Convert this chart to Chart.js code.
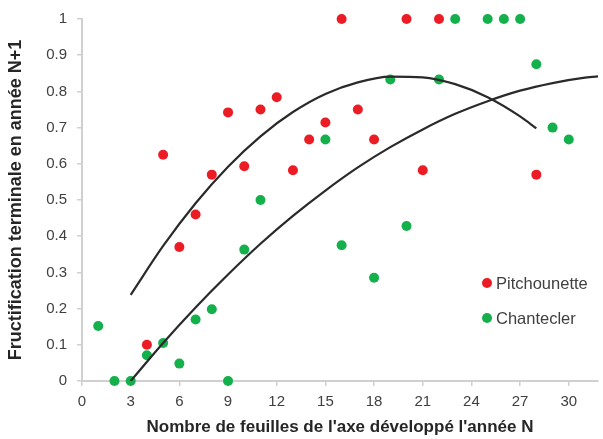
<!DOCTYPE html>
<html lang="fr">
<head>
  <meta charset="UTF-8">
  <title>Fructification terminale</title>
  <script src="https://cdn.jsdelivr.net/npm/chart.js"></script>
  <style>
    html, body { margin: 0; padding: 0; background: #fff; }
    #wrap { width: 603px; height: 439px; }
  </style>
</head>
<body>
  <div id="wrap"><canvas id="myChart" width="603" height="439"></canvas></div>
  <script>
    // Pitchounette : nombre de feuilles / fructification
    const pitchX = [4, 5, 6, 7, 8, 9, 10, 11, 12, 13, 14, 15, 16, 17, 18, 20, 21, 22, 28];
    const pitchY = [0.1, 0.625, 0.37, 0.46, 0.57, 0.742, 0.593, 0.75, 0.784, 0.582, 0.667, 0.714, 1, 0.75, 0.667, 1, 0.582, 1, 0.57];

    // Chantecler
    const chantX = [1, 2, 3, 4, 5, 6, 7, 8, 9, 10, 11, 15, 16, 18, 19, 20, 22, 23, 25, 26, 27, 28, 29, 30];
    const chantY = [0.152, 0, 0, 0.071, 0.105, 0.048, 0.17, 0.198, 0, 0.363, 0.5, 0.667, 0.375, 0.285, 0.833, 0.428, 0.833, 1, 1, 1, 1, 0.875, 0.7, 0.667];

    // courbes de tendance
    const trendPX = [3, 5, 7, 9, 11, 13, 15, 17, 19, 21, 23, 25, 27, 28];
    const trendPY = [0.238, 0.373, 0.491, 0.592, 0.676, 0.743, 0.793, 0.825, 0.841, 0.839, 0.82, 0.784, 0.731, 0.698];
    const trendCX = [3, 5, 7, 9, 11, 13, 15, 17, 19, 21, 23, 25, 27, 29, 31, 32];
    const trendCY = [0, 0.105, 0.203, 0.294, 0.379, 0.456, 0.526, 0.59, 0.646, 0.695, 0.738, 0.773, 0.802, 0.823, 0.838, 0.842];

    const legendNames = ['Pitchounette', 'Chantecler'];
    const colRed = '#ec1c24';
    const colGreen = '#14b04c';

    function pts(xs, ys) {
      return xs.map((x, i) => ({ x: x, y: ys[i] }));
    }

    const FONT = "'Liberation Sans', Arial, Helvetica, sans-serif";

    // legende dans la zone du graphique
    const insideLegend = {
      id: 'insideLegend',
      afterDraw(chart) {
        const ctx = chart.ctx;
        const area = chart.chartArea;
        const cols = [colRed, colGreen];
        ctx.save();
        ctx.font = '16.5px ' + FONT;
        ctx.textBaseline = 'middle';
        ctx.textAlign = 'left';
        legendNames.forEach((name, i) => {
          const x = area.right - 111;
          const y = 283 + i * 35;
          ctx.fillStyle = cols[i];
          ctx.beginPath();
          ctx.arc(x, y, 5, 0, Math.PI * 2);
          ctx.fill();
          ctx.fillStyle = '#404040';
          ctx.fillText(name, x + 9, y + 1);
        });
        ctx.restore();
      }
    };

    const ctx = document.getElementById('myChart').getContext('2d');
    const myChart = new Chart(ctx, {
      type: 'scatter',
      data: {
        datasets: [{
          type: 'line',
          label: 'tendance Pitchounette',
          data: pts(trendPX, trendPY),
          borderColor: '#2a2a2a',
          borderWidth: 2.2,
          pointRadius: 0,
          cubicInterpolationMode: 'monotone',
          fill: false
        }, {
          type: 'line',
          label: 'tendance Chantecler',
          data: pts(trendCX, trendCY),
          borderColor: '#2a2a2a',
          borderWidth: 2.2,
          pointRadius: 0,
          cubicInterpolationMode: 'monotone',
          fill: false
        }, {
          label: legendNames[1],
          data: pts(chantX, chantY),
          backgroundColor: colGreen,
          borderWidth: 0,
          pointRadius: 5,
          clip: false
        }, {
          label: legendNames[0],
          data: pts(pitchX, pitchY),
          backgroundColor: colRed,
          borderWidth: 0,
          pointRadius: 5,
          clip: false
        }]
      },
      options: {
        responsive: false,
        animation: false,
        layout: { padding: { top: 16, right: 0, left: 0, bottom: 0 } },
        plugins: {
          legend: { display: false },
          tooltip: { enabled: false }
        },
        scales: {
          x: {
            type: 'linear',
            min: 0,
            max: 31.8,
            afterFit: (s) => { s.height = 58; },
            ticks: {
              stepSize: 3,
              includeBounds: false,
              padding: 7,
              color: '#404040',
              font: { family: FONT, size: 15 }
            },
            grid: { drawOnChartArea: false, color: '#d0d0d0', tickLength: 5, lineWidth: 1.5 },
            border: { color: '#d0d0d0', width: 2 },
            title: {
              display: true,
              text: "Nombre de feuilles de l'axe développé l'année N",
              color: '#262626',
              font: { family: FONT, size: 17, weight: 'bold' },
              padding: { top: 0, bottom: 1 }
            }
          },
          y: {
            min: 0,
            max: 1,
            afterFit: (s) => { s.width = 82; },
            ticks: {
              stepSize: 0.1,
              padding: 10,
              color: '#404040',
              font: { family: FONT, size: 15 },
              callback: (v) => String(Math.round(v * 10) / 10)
            },
            grid: { drawOnChartArea: false, color: '#d0d0d0', tickLength: 5, lineWidth: 1.5 },
            border: { color: '#d0d0d0', width: 2 },
            title: {
              display: true,
              text: 'Fructification terminale en année N+1',
              color: '#262626',
              font: { family: FONT, size: 18, weight: 'bold' },
              padding: { top: 5, bottom: 0 }
            }
          }
        }
      },
      plugins: [insideLegend]
    });
  </script>
</body>
</html>
